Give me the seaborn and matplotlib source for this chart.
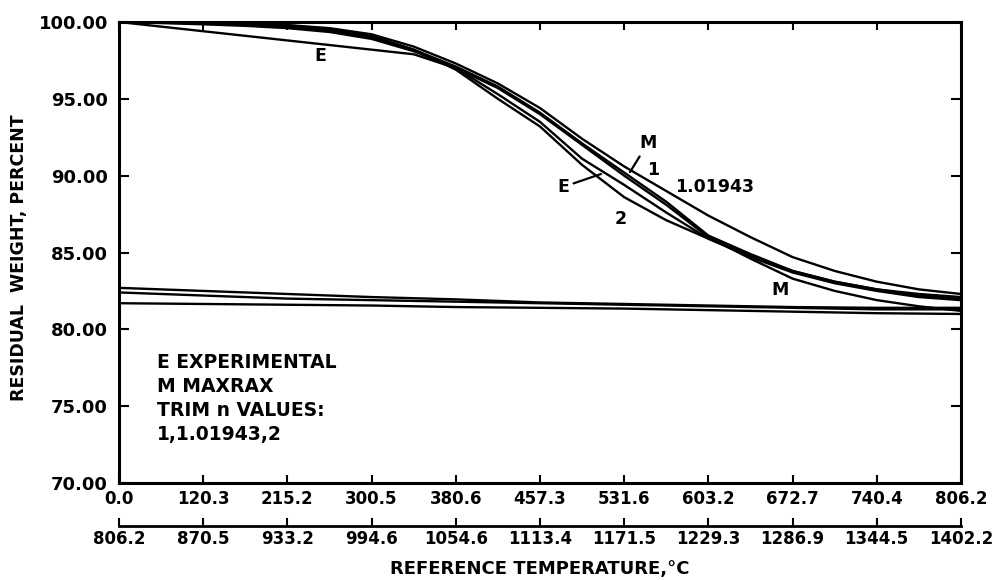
import matplotlib
matplotlib.use("Agg")
import matplotlib.pyplot as plt
import seaborn as sns
import pandas as pd

# ---------------- data (x = tick position index along the time/temperature axis) -------------
x_pos = [0, 0.5, 1, 1.5, 2, 2.5, 3, 3.5, 4, 4.5, 5, 5.5, 6, 6.5, 7, 7.5, 8, 8.5, 9, 9.5, 10]

trim_1_01943 = [100, 99.98, 99.95, 99.9, 99.8, 99.6, 99.2, 98.4, 97.3, 96.0, 94.4, 92.4, 90.6,
                89.0, 87.4, 86.0, 84.7, 83.8, 83.1, 82.6, 82.3]
trim_1 = [100, 99.96, 99.9, 99.8, 99.7, 99.45, 99.0, 98.2, 97.1, 95.8, 94.1, 92.1, 90.2,
          88.3, 86.1, 84.9, 83.8, 83.1, 82.6, 82.2, 82.0]
maxrax = [100, 99.93, 99.85, 99.75, 99.6, 99.35, 98.9, 98.1, 97.0, 95.7, 94.0, 92.0, 90.0,
          88.1, 86.0, 84.6, 83.3, 82.5, 81.9, 81.5, 81.2]
experimental = [100, 99.7, 99.4, 99.1, 98.8, 98.5, 98.2, 97.9, 97.0, 95.3, 93.5, 91.1, 89.4,
                87.6, 85.9, 84.8, 83.8, 83.1, 82.6, 82.3, 82.1]
trim_2 = [100, 99.97, 99.93, 99.88, 99.78, 99.55, 99.1, 98.2, 96.9, 95.0, 93.2, 90.7, 88.6,
          87.1, 85.9, 84.7, 83.7, 83.0, 82.5, 82.1, 81.9]

x_low = [0, 1, 2, 3, 4, 5, 6, 7, 8, 9, 10]
lower_a = [82.7, 82.5, 82.3, 82.1, 81.95, 81.75, 81.65, 81.55, 81.45, 81.4, 81.4]
lower_b = [82.4, 82.2, 82.0, 81.9, 81.8, 81.7, 81.6, 81.5, 81.4, 81.3, 81.3]
lower_c = [81.7, 81.65, 81.6, 81.55, 81.45, 81.4, 81.35, 81.25, 81.15, 81.05, 81.0]

top_tick_labels = ["0.0", "120.3", "215.2", "300.5", "380.6", "457.3", "531.6",
                   "603.2", "672.7", "740.4", "806.2"]
bottom_tick_labels = ["806.2", "870.5", "933.2", "994.6", "1054.6", "1113.4", "1171.5",
                      "1229.3", "1286.9", "1344.5", "1402.2"]
y_ticks = [70, 75, 80, 85, 90, 95, 100]

legend_lines = ["E EXPERIMENTAL", "M MAXRAX", "TRIM n VALUES:", "1,1.01943,2"]

# ---------------- figure -------------
sns.set_theme(style="ticks")
plt.rcParams['font.family'] = ['DejaVu Sans']
plt.rcParams['font.weight'] = 'bold'
plt.rcParams['axes.labelweight'] = 'bold'
plt.rcParams['text.color'] = 'black'
plt.rcParams['axes.labelcolor'] = 'black'
plt.rcParams['xtick.color'] = 'black'
plt.rcParams['ytick.color'] = 'black'

W, H = 996, 580
fig = plt.figure(figsize=(W / 100, H / 100), dpi=100)
fig.patch.set_facecolor('white')
L, R, T, B = 119, 961, 22, 483
ax = fig.add_axes([L / W, 1 - B / H, (R - L) / W, (B - T) / H])
ax.set_facecolor('white')

curves = pd.DataFrame({
    "x": x_pos * 5,
    "y": trim_1_01943 + trim_1 + maxrax + experimental + trim_2,
    "curve": (["1.01943"] * len(x_pos) + ["1"] * len(x_pos) + ["M"] * len(x_pos)
              + ["E"] * len(x_pos) + ["2"] * len(x_pos)),
})
lows = pd.DataFrame({
    "x": x_low * 3,
    "y": lower_a + lower_b + lower_c,
    "curve": ["a"] * len(x_low) + ["b"] * len(x_low) + ["c"] * len(x_low),
})
for df in (curves, lows):
    for name, g in df.groupby("curve"):
        sns.lineplot(data=g, x="x", y="y", ax=ax, color="black", linewidth=1.7,
                     legend=False, estimator=None, sort=False)

ax.set_xlim(0, 10)
ax.set_ylim(70, 100)
ax.set_xticks(range(11))
ax.set_xticklabels(top_tick_labels)
ax.set_yticks(y_ticks)
ax.set_yticklabels([f"{v:.2f}" for v in y_ticks])
for s in ax.spines.values():
    s.set_visible(True)
    s.set_linewidth(2.2)
    s.set_color("black")
ax.tick_params(axis='both', direction='in', top=True, right=True, width=1.5,
               color='black', labelcolor='black')
ax.tick_params(axis='x', length=6, labelsize=12, pad=5)
ax.tick_params(axis='y', length=7, labelsize=13, pad=8)

# secondary temperature scale below
sec = ax.secondary_xaxis(-(526 - B) / (B - T))
sec.set_xticks(range(11))
sec.set_xticklabels(bottom_tick_labels)
sec.tick_params(axis='x', direction='in', length=6, width=1.5, labelsize=12, pad=3,
                color='black', labelcolor='black')
for s in sec.spines.values():
    s.set_linewidth(2.0)
    s.set_color("black")

ax.set_xlabel("REFERENCE TEMPERATURE,°C", fontsize=13, fontweight='bold', color='black')
ax.xaxis.set_label_coords(0.5, -(560 - B) / (B - T))
ax.set_ylabel("RESIDUAL  WEIGHT, PERCENT", fontsize=12.5, fontweight='bold', color='black')
ax.yaxis.set_label_coords((28 - L) / (R - L), 1 - (258 - T) / (B - T))


def dx(px):
    return (px - L) / (R - L) * 10


def dy(py):
    return 100 - (py - T) / (B - T) * 30


lab = dict(fontsize=12.5, fontweight='bold', color='black', ha='center', va='center')
ax.text(dx(320), dy(56), "E", **lab)
ax.annotate("E", xy=(dx(601), dy(174)), xytext=(dx(563), dy(187)),
            arrowprops=dict(arrowstyle='-', lw=1.6, color='black', shrinkA=1, shrinkB=0), **lab)
ax.annotate("M", xy=(dx(630), dy(172)), xytext=(dx(648), dy(143)),
            arrowprops=dict(arrowstyle='-', lw=1.6, color='black', shrinkA=1, shrinkB=0), **lab)
ax.text(dx(653), dy(170), "1", **lab)
ax.text(dx(675), dy(187), "1.01943", fontsize=12.5, fontweight='bold', ha='left',
        va='center', color='black')
ax.text(dx(621), dy(219), "2", **lab)
ax.text(dx(780), dy(290), "M", **lab)

for i, line in enumerate(legend_lines):
    ax.text(dx(157), dy(362 + 24 * i), line, fontsize=13.5, fontweight='bold',
            ha='left', va='center', color='black')

fig.savefig("out.png", dpi=100, facecolor='white')
